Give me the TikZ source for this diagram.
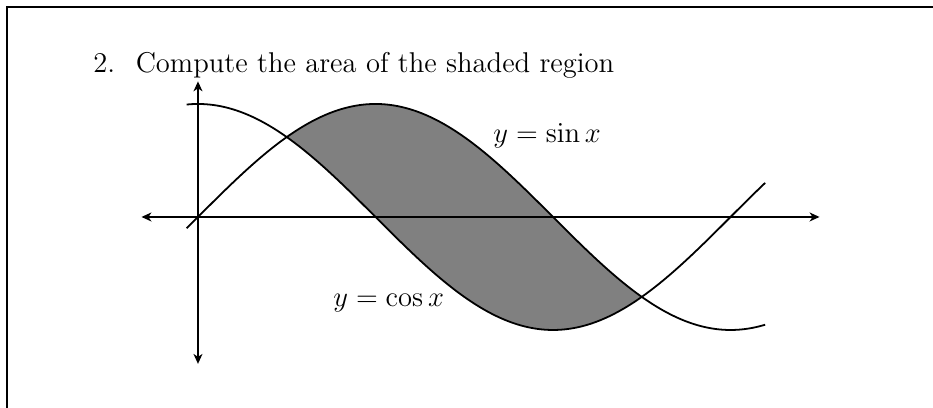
\documentclass[tikz,border=0pt]{standalone}
\usetikzlibrary{arrows.meta}
\begin{document}
\begin{tikzpicture}[x=2cm,y=2cm,
  curve/.style={line width=0.9pt},
  axis/.style={line width=0.9pt,{Stealth[length=5pt,width=4.5pt,inset=1.5pt]}-{Stealth[length=5pt,width=4.5pt,inset=1.5pt]}},
  frameline/.style={line width=1pt},
  lbl/.style={anchor=base west,inner sep=0pt,font=\Large}]
\useasboundingbox (-1.752,-1.690) rectangle (6.504,1.920);
\clip (-1.752,-1.690) rectangle (6.504,1.920);
\draw[frameline] (-1.686,-2) |- (7,1.858);
\node[lbl] (q) at (-0.929,1.274) {2.\hspace{0.72em}Compute the area of the shaded region};
\fill[gray] plot[domain=0.7854:3.9270,samples=60,smooth] (\x,{sin(\x r)}) -- plot[domain=3.9270:0.7854,samples=60,smooth] (\x,{cos(\x r)}) -- cycle;
\draw[curve] plot[domain=-0.1:5.02,samples=120,smooth] (\x,{sin(\x r)});
\draw[curve] plot[domain=-0.1:5.02,samples=120,smooth] (\x,{cos(\x r)});
\coordinate (xl) at (-0.5,0);
\coordinate (xr) at (5.5,0);
\coordinate (yt) at (0,1.2);
\coordinate (yb) at (0,-1.3);
\draw[axis] (xl) -- (xr);
\draw[axis] (yb) -- (yt);
\node[lbl] (ls) at (2.611,0.658) {$y=\sin x$};
\node[lbl] (lc) at (1.195,-0.796) {$y=\cos x$};
\end{tikzpicture}
\end{document}
